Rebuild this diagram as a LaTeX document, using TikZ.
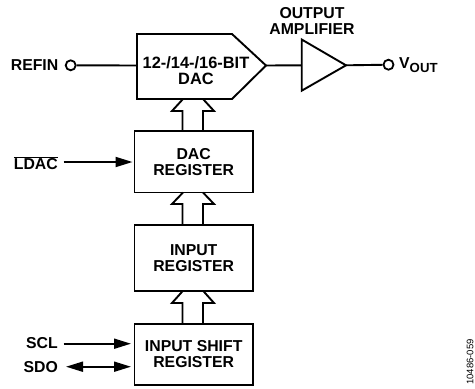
\documentclass[tikz,border=0pt]{standalone}
\usepackage{fontspec}
\setmainfont{Liberation Sans}
\usetikzlibrary{arrows.meta}
\tikzset{
  x=1pt,y=-1pt,
  lbl/.style={font=\fontsize{15.8}{15.8}\selectfont\bfseries,align=center,inner sep=0pt},
  thick line/.style={line width=1.9pt,line join=miter},
  boxs/.style={draw,line width=1.9pt,minimum width=118.5pt,inner sep=0pt,align=center,font=\fontsize{15.8}{15.8}\selectfont\bfseries},
  pin/.style={circle,draw,line width=1.8pt,minimum size=10pt,inner sep=0pt},
  sigtip/.tip={Triangle[length=17pt,width=10pt]},
}
\begin{document}
\begin{tikzpicture}
\useasboundingbox (0,0) rectangle (475,389);
% DAC
\coordinate (dacW) at (137,65.5);
\draw[thick line] (137,34) -- (232,34) -- (266,65.5) -- (232,99) -- (137,99) -- cycle;
\coordinate (dacE) at (266,65.5);
\node[lbl,font=\fontsize{16.4}{15.8}\selectfont\bfseries] (daclbl) at (196,70.5) {12-/14-/16-BIT\\DAC};
% registers
\node[boxs,minimum height=61.5pt] (dacreg) at (193.7,161.7) {DAC\\REGISTER};
\node[boxs,minimum height=65.7pt] (inreg) at (193.7,257.8) {INPUT\\REGISTER};
\node[boxs,minimum height=61pt] (shreg) at (193.7,354.2) {INPUT SHIFT\\REGISTER};
% bus arrows
\draw[thick line] (182.5,131) -- (182.5,111) -- (172,111) -- (183,99) (203,99) -- (214,111) -- (203,111) -- (203,131);
\draw[thick line] (182.5,225) -- (182.5,204) -- (172,204) -- (183,192.5) (203,192.5) -- (214,204) -- (203,204) -- (203,225);
\draw[thick line] (182.5,323.7) -- (182.5,303) -- (172,303) -- (183,290.7) (203,290.7) -- (214,303) -- (203,303) -- (203,323.7);
% amplifier
\draw[thick line] (301.7,39.5) -- (346,65.3) -- (301.7,90.7) -- cycle;
\coordinate (ampW) at (301.7,65.3);
\coordinate (ampE) at (346,65.3);
\node[lbl] (amplbl) at (312,21) {OUTPUT\\AMPLIFIER};
\draw[thick line] (dacE) -- (ampW);
% pins
\node[pin] (refin) at (70.7,65.3) {};
\node[pin] (vout) at (388.5,64.7) {};
\draw[thick line] (refin) -- (dacW);
\draw[thick line] (ampE) -- (vout);
\node[lbl,anchor=east] (refinl) at (58.5,65.5) {REFIN};
\node[lbl,anchor=west] (voutl) at (399,65.5) {V\raisebox{-4pt}{\fontsize{13.2}{14}\selectfont OUT}};
% inputs
\coordinate (ldacS) at (63.5,162);
\coordinate (sclS) at (63.5,343.7);
\coordinate (sdoS) at (66,366.7);
\coordinate (ldacE) at (132.5,162);
\coordinate (sclE) at (131,343.7);
\coordinate (sdoE) at (131,366.7);
\draw[thick line,-sigtip] (ldacS) -- (ldacE);
\draw[thick line,-sigtip] (sclS) -- (sclE);
\draw[thick line,sigtip-sigtip] (sdoS) -- (sdoE);
\node[lbl,anchor=east] (ldacl) at (58,163) {$\overline{\mbox{LDAC}}$};
\node[lbl,anchor=east] (scll) at (58,343.5) {SCL};
\node[lbl,anchor=east] (sdol) at (58,367) {SDO};
\node[rotate=90,anchor=west,inner sep=0pt,font=\fontsize{9.5}{10}\selectfont] (code) at (470,385) {10486-059};
\end{tikzpicture}
\end{document}
